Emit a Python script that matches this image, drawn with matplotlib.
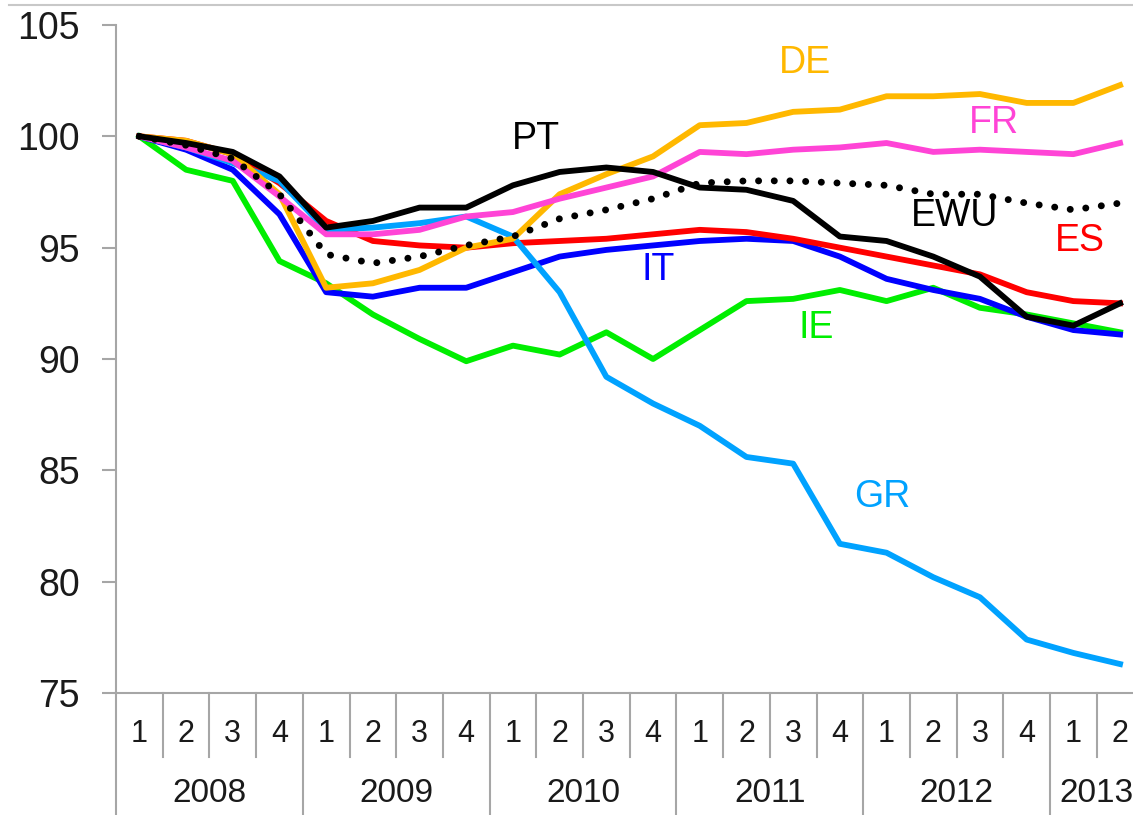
import matplotlib
matplotlib.use("Agg")
from matplotlib import pyplot as plt
from matplotlib.lines import Line2D
import matplotlib.transforms as mtransforms

plt.rcParams['font.family'] = ['Liberation Sans', 'DejaVu Sans']

# Quartale 2008Q1 - 2013Q2, Index 2008Q1 = 100
quarter_labels = ["1", "2", "3", "4"] * 5 + ["1", "2"]
years = ["2008", "2009", "2010", "2011", "2012", "2013"]

DE  = [100, 99.8, 99.2, 97.4, 93.2, 93.4, 94.0, 95.0, 95.4, 97.4, 98.3, 99.1,
       100.5, 100.6, 101.1, 101.2, 101.8, 101.8, 101.9, 101.5, 101.5, 102.3]
FR  = [100, 99.5, 98.9, 97.3, 95.6, 95.6, 95.8, 96.4, 96.6, 97.2, 97.7, 98.2,
       99.3, 99.2, 99.4, 99.5, 99.7, 99.3, 99.4, 99.3, 99.2, 99.7]
EWU = [100, 99.6, 99.0, 97.4, 94.7, 94.3, 94.6, 95.1, 95.5, 96.3, 96.7, 97.2,
       97.9, 98.0, 98.0, 97.9, 97.8, 97.4, 97.4, 97.0, 96.7, 97.0]
ES  = [100, 99.8, 99.2, 97.9, 96.2, 95.3, 95.1, 95.0, 95.2, 95.3, 95.4, 95.6,
       95.8, 95.7, 95.4, 95.0, 94.6, 94.2, 93.8, 93.0, 92.6, 92.5]
IT  = [100, 99.4, 98.5, 96.5, 93.0, 92.8, 93.2, 93.2, 93.9, 94.6, 94.9, 95.1,
       95.3, 95.4, 95.3, 94.6, 93.6, 93.1, 92.7, 91.9, 91.3, 91.1]
IE  = [100, 98.5, 98.0, 94.4, 93.4, 92.0, 90.9, 89.9, 90.6, 90.2, 91.2, 90.0,
       91.3, 92.6, 92.7, 93.1, 92.6, 93.2, 92.3, 92.0, 91.6, 91.2]
GR  = [100, 99.5, 98.8, 98.0, 95.8, 95.9, 96.1, 96.4, 95.5, 93.0, 89.2, 88.0,
       87.0, 85.6, 85.3, 81.7, 81.3, 80.2, 79.3, 77.4, 76.8, 76.3]
PT  = [100, 99.7, 99.3, 98.2, 95.9, 96.2, 96.8, 96.8, 97.8, 98.4, 98.6, 98.4,
       97.7, 97.6, 97.1, 95.5, 95.3, 94.6, 93.7, 91.9, 91.5, 92.5]

x = list(range(len(quarter_labels)))

fig = plt.figure(figsize=(11.33, 8.15), dpi=100)
# Achse ragt rechts etwas aus dem Bild (wie im Original abgeschnitten)
ax = fig.add_axes([116 / 1133, 122 / 815, 22 * 46.7 / 1133, 668 / 815])

# Reihenfolge = Zeichenreihenfolge
series = [
    ("IE", IE, "#00EE00", "-"),
    ("IT", IT, "#0000FF", "-"),
    ("ES", ES, "#FF0000", "-"),
    ("GR", GR, "#00A2FF", "-"),
    ("DE", DE, "#FFB800", "-"),
    ("FR", FR, "#FF44D6", "-"),
    ("EWU", EWU, "black", ":"),
    ("PT", PT, "black", "-"),
]
for name, vals, col, ls in series:
    if ls == ":":
        ax.plot(x, vals, color=col, lw=5, linestyle=(0, (0.01, 2.25)),
                dash_capstyle="round", zorder=3)
    else:
        ax.plot(x, vals, color=col, lw=4.2, solid_joinstyle="round", zorder=3)

# Beschriftungen der Reihen
labels = {
    "DE": (14.25, 103.3, "#FFB800"),
    "PT": (8.5, 99.9, "black"),
    "FR": (18.3, 100.6, "#FF44D6"),
    "EWU": (17.45, 96.4, "black"),
    "ES": (20.15, 95.3, "#FF0000"),
    "IT": (11.1, 94.0, "#0000FF"),
    "IE": (14.5, 91.4, "#00EE00"),
    "GR": (15.9, 83.8, "#00A2FF"),
}
for name, (lx, ly, col) in labels.items():
    ax.text(lx, ly, name, color=col, fontsize=27, ha="center", va="center")

ax.set_xlim(-0.5, len(x) - 0.5)
ax.set_ylim(75, 105)
ax.set_yticks([75, 80, 85, 90, 95, 100, 105])
ax.tick_params(axis="y", length=10, width=1.5, color="#A6A6A6", pad=16,
               labelsize=27, labelcolor="#1a1a1a")
ax.set_xticks([])

grey = "#A6A6A6"
for s in ["top", "right"]:
    ax.spines[s].set_visible(False)
for s in ["left", "bottom"]:
    ax.spines[s].set_color(grey)
    ax.spines[s].set_linewidth(1.5)

# mehrstufige Kategorieachse
trans = mtransforms.blended_transform_factory(ax.transData, ax.transAxes)
for i, q in enumerate(quarter_labels):
    ax.text(i, -0.0614, q, transform=trans, ha="center", va="center",
            fontsize=22, color="#1a1a1a", clip_on=False)
    if i > 0:
        if q == "1":
            y_end = -0.19
        else:
            y_end = -0.0958
        ax.add_line(Line2D([i - 0.5, i - 0.5], [0, y_end], transform=trans,
                           color=grey, lw=1.5, clip_on=False))
ax.add_line(Line2D([-0.5, -0.5], [0, -0.19], transform=trans,
                   color=grey, lw=1.5, clip_on=False))

start = 0
for yr in years:
    n = quarter_labels[start:].index("4") + 1 if "4" in quarter_labels[start:] else len(quarter_labels) - start
    ax.text(start + (n - 1) / 2, -0.1505, yr, transform=trans, ha="center",
            va="center", fontsize=24, color="#1a1a1a", clip_on=False)
    start += n

# Rahmenlinie oben
fig.add_artist(Line2D([0.008, 1.0], [1 - 4.7 / 815] * 2, transform=fig.transFigure,
                      color="#C8C8C8", lw=1.5))

fig.savefig("out.png", dpi=100)
